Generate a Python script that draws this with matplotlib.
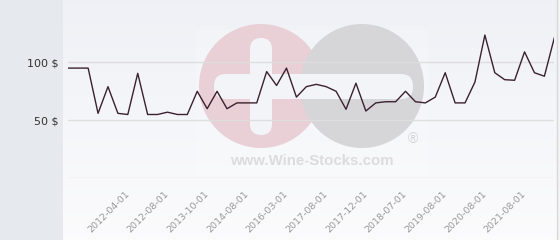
import matplotlib
matplotlib.use("Agg")
import matplotlib.pyplot as plt
import numpy as np
from matplotlib.patches import Circle, FancyBboxPatch, Rectangle

# price history (USD), one value per observation
prices = [95, 95, 95, 56, 79, 56, 55, 90.5, 55, 55,
          57, 55, 55, 75, 60, 75, 60, 65, 65, 65,
          92, 80, 95, 70, 79, 81, 79, 75, 59.5, 82,
          58, 65, 66, 66, 75, 66, 65, 70, 91, 65,
          65, 83, 123.5, 91, 85, 84.5, 109, 91, 88, 121]
tick_idx = [6, 10, 14, 18, 22, 26, 30, 34, 38, 42, 46]
tick_labels = ["2012-04-01", "2012-08-01", "2013-10-01", "2014-08-01",
               "2016-03-01", "2017-08-01", "2017-12-01", "2018-07-01",
               "2019-08-01", "2020-08-01", "2021-08-01"]
y_ticks = [0, 50, 100]
y_labels = ["", "50 $", "100 $"]

W, H = 560, 240
fig = plt.figure(figsize=(W / 100, H / 100), dpi=100)

# background layer, in pixel coordinates
bg = fig.add_axes([0, 0, 1, 1])
bg.set_xlim(0, W)
bg.set_ylim(H, 0)
bg.axis("off")
bg.add_patch(Rectangle((0, 0), 63, H, color="#e6e9ed", lw=0))
grad = np.linspace(0, 1, 100)[:, None]
top = np.array([0.937, 0.945, 0.965])
bot = np.array([0.985, 0.985, 0.99])
img = top + (bot - top) * grad[..., None]
bg.imshow(img, extent=(63, 557, H, 0), aspect="auto", zorder=0)
bg.add_patch(Rectangle((557, 0), 3, H, color="#f4f4f4", lw=0, zorder=1))
bg.plot([557, 557], [0, H], color="#d8d8d8", lw=1, zorder=2)

# watermark
bg.add_patch(Rectangle((196, 30), 232, 145, color="white", alpha=0.2, lw=0, zorder=1))
bg.add_patch(Circle((261, 86), 62, color="#e9cfd6", lw=0, zorder=2))
bg.add_patch(Circle((362, 86), 62, color="#d6d6d8", lw=0, zorder=3))
bg.add_patch(FancyBboxPatch((214, 74), 199, 25, boxstyle="round,pad=0,rounding_size=12",
                            color="#f3f4f8", lw=0, zorder=4))
bg.add_patch(FancyBboxPatch((250, 38), 22, 97, boxstyle="round,pad=0,rounding_size=11",
                            color="#f3f4f8", lw=0, zorder=4))
bg.text(312, 161, "www.Wine-Stocks.com", ha="center", va="center", fontsize=10.8,
        fontweight="bold", color="#dcdcde", family="Liberation Sans", zorder=4)
bg.text(413, 139, "®", ha="center", va="center", fontsize=10,
        color="#d4d4d6", family="Liberation Sans", zorder=4)

# chart
ax = fig.add_axes([68.3 / W, (H - 178.3) / H, (554.3 - 68.3) / W, 178.3 / H])
ax.set_facecolor("none")
x = np.arange(len(prices))
ax.plot(x, prices, color="#3b2130", lw=1, zorder=3)
ax.set_xlim(0, len(prices) - 1)
ax.set_ylim(0, 153.7)
ax.set_yticks(y_ticks)
ax.set_yticklabels(y_labels, fontsize=8, color="#333333")
ax.set_xticks(tick_idx)
ax.set_xticklabels(tick_labels, rotation=45, ha="right", va="center",
                   rotation_mode="anchor", fontsize=6.8, color="#999999")
ax.tick_params(axis="x", length=0, pad=10)
ax.tick_params(axis="y", length=0, pad=7)
ax.grid(axis="y", color="#dedede", lw=1)
for s in ax.spines.values():
    s.set_visible(False)

fig.savefig("out.png", dpi=100)
